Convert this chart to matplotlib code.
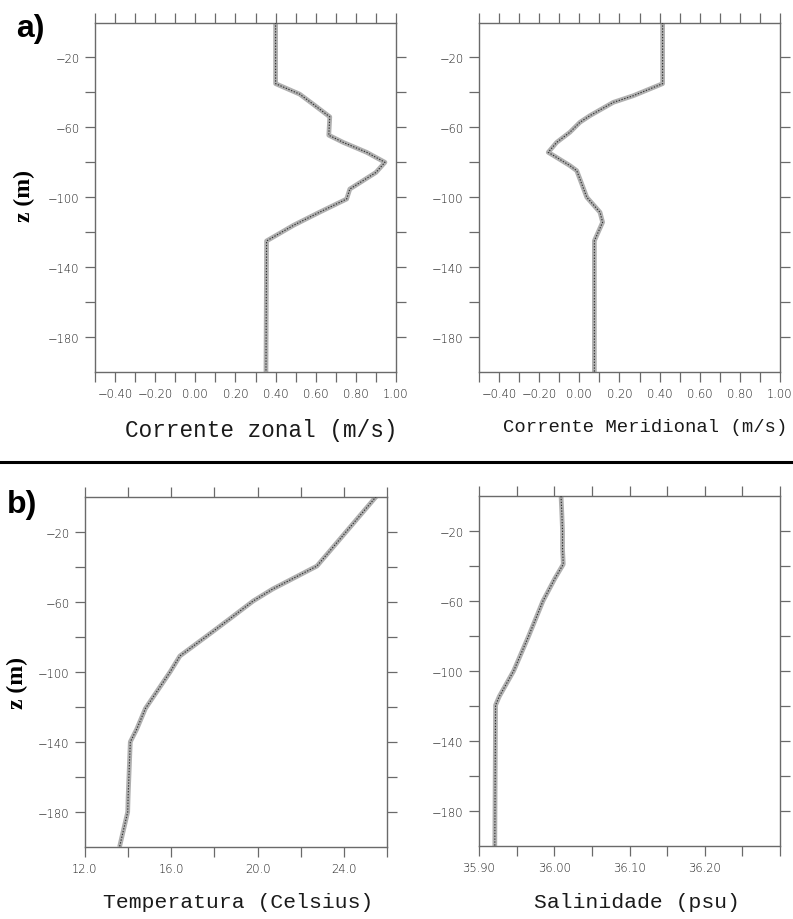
import matplotlib
matplotlib.use("Agg")
import matplotlib.pyplot as plt
from matplotlib.ticker import FixedLocator, FixedFormatter

# ---- profiles (depth in m, negative downward) ----
z_u = [0, -35, -38, -41, -47, -54, -64.5, -68.6, -74.3, -80, -85.8, -95.3, -101, -108.5, -116, -125, -200]
u_zonal = [0.40, 0.40, 0.46, 0.52, 0.59, 0.67, 0.665, 0.737, 0.854, 0.945, 0.90, 0.77, 0.754, 0.62, 0.49, 0.355, 0.352]

z_v = [0, -35, -41.9, -45.7, -53.3, -57.1, -62.8, -68.6, -74.3, -76, -81.9, -84.8, -89.6, -100, -108.6, -114.3,
       -120, -124.9, -200]
v_merid = [0.415, 0.415, 0.269, 0.169, 0.053, 0.003, -0.047, -0.113, -0.155, -0.13, -0.047, -0.013, 0.003,
           0.037, 0.103, 0.116, 0.094, 0.075, 0.075]

z_t = [0, -19.5, -31.8, -39.7, -52.8, -59.6, -69.9, -77.3, -91, -100, -113.7, -121, -132.7, -140, -171, -180, -200]
temp = [25.5, 24.15, 23.3, 22.75, 20.7, 19.8, 18.7, 17.9, 16.4, 15.95, 15.2, 14.8, 14.4, 14.1, 14.0, 13.98, 13.6]

z_s = [0, -9, -20, -30, -39, -47, -60, -80, -100, -114.5, -119.5, -200]
salt = [36.009, 36.010, 36.011, 36.011, 36.012, 36.001, 35.985, 35.966, 35.946, 35.927, 35.922, 35.921]

# ---- axis ticks / labels ----
z_ticks = [-180, -160, -140, -120, -100, -80, -60, -40, -20]
z_labels = [-20, -60, -100, -140, -180]

vel_ticks = [-0.5, -0.4, -0.3, -0.2, -0.1, 0.0, 0.1, 0.2, 0.3, 0.4, 0.5, 0.6, 0.7, 0.8, 0.9, 1.0]
vel_labels = ["−0.40", "−0.20", "0.00", "0.20", "0.40", "0.60", "0.80", "1.00"]
vel_label_pos = [-0.4, -0.2, 0.0, 0.2, 0.4, 0.6, 0.8, 1.0]

t_ticks = [12, 14, 16, 18, 20, 22, 24, 26]
t_label_pos = [12, 16, 20, 24]
t_labels = ["12.0", "16.0", "20.0", "24.0"]

s_ticks = [35.90, 35.95, 36.00, 36.05, 36.10, 36.15, 36.20, 36.25, 36.30]
s_label_pos = [35.90, 36.00, 36.10, 36.20]
s_labels = ["35.90", "36.00", "36.10", "36.20"]

W, H = 793, 920
fig = plt.figure(figsize=(W / 100, H / 100), dpi=100)
fig.patch.set_facecolor("white")

SPINE = "#6a6a6a"
TXT = "#1e1e1e"


def frac(x, y):
    return x / W, 1 - y / H


def make_axes(left, right, top, bottom):
    x0, y1 = frac(left, top)
    x1, y0 = frac(right, bottom)
    return fig.add_axes([x0, y0, x1 - x0, y1 - y0])


def style(ax, xticks, xlabpos, xlabs, xlim):
    ax.set_xlim(*xlim)
    ax.set_ylim(-200, 0)
    for s in ax.spines.values():
        s.set_color(SPINE)
        s.set_linewidth(1.0)
    # every tick mark is a minor tick; labelled positions are the major ticks
    ax.xaxis.set_minor_locator(FixedLocator(xticks))
    ax.xaxis.set_major_locator(FixedLocator(xlabpos))
    ax.xaxis.set_major_formatter(FixedFormatter(xlabs))
    ax.yaxis.set_minor_locator(FixedLocator(z_ticks))
    ax.yaxis.set_major_locator(FixedLocator(z_labels))
    ax.yaxis.set_major_formatter(FixedFormatter(["−%d" % abs(v) for v in z_labels]))
    for which in ("major", "minor"):
        ax.tick_params(axis="both", which=which, direction="out", length=7, width=0.9,
                       color=SPINE, top=True, right=True, bottom=True, left=True)
    ax.tick_params(axis="both", which="major", labelsize=8.3, labelcolor=TXT, pad=4,
                   labeltop=False, labelright=False)
    for lab in ax.get_xticklabels() + ax.get_yticklabels():
        lab.set_fontweight("light")


def draw_profile(ax, x, z):
    ax.plot(x, z, color="#b0b0b0", lw=3.4, solid_capstyle="butt", zorder=2)
    ax.plot(x, z, color="#303030", lw=0.8, ls=(0, (1.2, 1.4)), zorder=3)


ax1 = make_axes(95, 396, 23.5, 373)
style(ax1, vel_ticks, vel_label_pos, vel_labels, (-0.5, 1.0))
draw_profile(ax1, u_zonal, z_u)

ax2 = make_axes(479, 780, 23.5, 373)
style(ax2, vel_ticks, vel_label_pos, vel_labels, (-0.5, 1.0))
draw_profile(ax2, v_merid, z_v)

ax3 = make_axes(85, 387, 497.5, 848)
style(ax3, t_ticks, t_label_pos, t_labels, (12, 26))
draw_profile(ax3, temp, z_t)

ax4 = make_axes(479, 780, 497, 847)
style(ax4, s_ticks, s_label_pos, s_labels, (35.90, 36.30))
draw_profile(ax4, salt, z_s)

# axis titles in typewriter face
mono = "Liberation Mono"
fig.text(*frac(261, 430), "Corrente zonal (m/s)", family=mono, fontsize=16.3,
         ha="center", va="center", color="#1a1a1a")
fig.text(*frac(645, 427), "Corrente Meridional (m/s)", family=mono, fontsize=13.6,
         ha="center", va="center", color="#1a1a1a")
fig.text(*frac(238, 903), "Temperatura (Celsius)", family=mono, fontsize=15.4,
         ha="center", va="center", color="#1a1a1a")
fig.text(*frac(637, 903), "Salinidade (psu)", family=mono, fontsize=15.4,
         ha="center", va="center", color="#1a1a1a")

# depth labels
for (x, y) in [(24, 196), (17, 683)]:
    fig.text(*frac(x, y), "z (m)", family="Liberation Serif", fontweight="bold", fontsize=17,
             rotation=90, ha="center", va="center", color="black")

# panel letters
fig.text(*frac(30, 29), "a)", family="Liberation Sans", fontweight="bold", fontsize=23,
         ha="center", va="center", color="black")
fig.text(*frac(22, 505), "b)", family="Liberation Sans", fontweight="bold", fontsize=23,
         ha="center", va="center", color="black")

# separator between the two rows
fig.add_artist(plt.Line2D([0, 1], [1 - 462.7 / H, 1 - 462.7 / H], color="black", lw=2.2,
                          transform=fig.transFigure))

fig.savefig("out.png", dpi=100, facecolor="white")
